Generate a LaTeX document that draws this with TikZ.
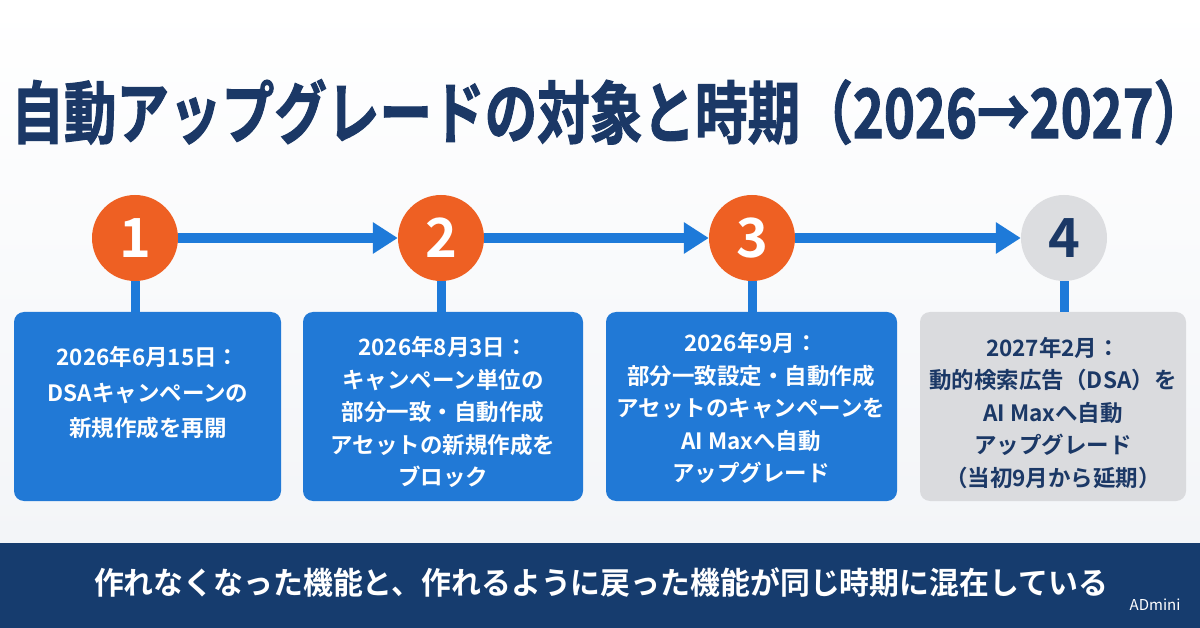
\documentclass[tikz,border=0pt]{standalone}
\usepackage{fontspec}
\newfontfamily\jp{Noto Sans CJK JP}[BoldFont=* Bold]
\newfontfamily\jpheavy{Noto Sans CJK JP Bold}[FakeBold=1.8]
\usetikzlibrary{arrows.meta,calc}
\definecolor{navy}{HTML}{1B3866}
\definecolor{band}{HTML}{163C6E}
\definecolor{bluebox}{HTML}{2179D6}
\definecolor{orng}{HTML}{EE6023}
\definecolor{grayc}{HTML}{DCDDE0}
\definecolor{grayb}{HTML}{DADBDE}
\definecolor{lineblue}{HTML}{1E7AD9}
\definecolor{bgtop}{HTML}{FFFFFF}
\definecolor{bgbot}{HTML}{F3F5F8}
\begin{document}
\begin{tikzpicture}[x=1pt,y=-1pt,
  stepcircle/.style={circle,minimum size=86pt,inner sep=0pt,font=\jp\bfseries\fontsize{54}{54}\selectfont},
  flowarrow/.style={draw=lineblue,line width=10pt,-{Triangle[length=25pt,width=30pt]}},
  vconn/.style={draw=lineblue,line width=9pt},
  boxtext/.style={align=center,font=\jp\bfseries\fontsize{22.5}{32.5}\selectfont,inner sep=0pt}]
\useasboundingbox (0,0) rectangle (1200,628);
\shade[top color=bgtop,bottom color=bgbot] (0,0) rectangle (1200,543);
\fill[band] (0,543) rectangle (1200,628);
% title
\node[inner sep=0pt] (title) at (597,112) {\scalebox{1}[1.29]{\color{navy}\jpheavy\fontsize{52.6}{52.6}\selectfont 自動アップグレードの対象と時期（2026→2027）\kern-0.45em}};
% circles
\node[stepcircle,fill=orng,text=white] (c1) at (135,238) {1};
\node[stepcircle,fill=orng,text=white] (c2) at (441,238) {2};
\node[stepcircle,fill=orng,text=white] (c3) at (752,238) {3};
\node[stepcircle,fill=grayc,text=navy] (c4) at (1064,238) {4};
% boxes
\draw[fill=bluebox,draw=none,rounded corners=10pt] (14,312) rectangle (281,501);
\node[inner sep=0pt,minimum width=267pt,minimum height=189pt] (b1) at (147.5,406.5) {};
\draw[fill=bluebox,draw=none,rounded corners=10pt] (303,312) rectangle (583,501);
\node[inner sep=0pt,minimum width=280pt,minimum height=189pt] (b2) at (443,406.5) {};
\draw[fill=bluebox,draw=none,rounded corners=10pt] (606,312) rectangle (897,501);
\node[inner sep=0pt,minimum width=291pt,minimum height=189pt] (b3) at (751.5,406.5) {};
\draw[fill=grayb,draw=none,rounded corners=10pt] (920,312) rectangle (1186,501);
\node[inner sep=0pt,minimum width=266pt,minimum height=189pt] (b4) at (1053,406.5) {};
% arrows
\draw[flowarrow] (c1.east) -- (c2.west);
\draw[flowarrow] (c2.east) -- (c3.west);
\draw[flowarrow] (c3.east) -- (c4.west);
% vertical connectors
\draw[vconn] (c1.south) -- (c1.south |- b1.north);
\draw[vconn] (c2.south) -- (c2.south |- b2.north);
\draw[vconn] (c3.south) -- (c3.south |- b3.north);
\draw[vconn] (c4.south) -- (c4.south |- b4.north);
% box texts
\node[boxtext,text=white,font=\jp\bfseries\fontsize{22.5}{35.5}\selectfont] (t1) at (148,393) {2026年6月15日：\\DSAキャンペーンの\\新規作成を再開};
\node[boxtext,text=white] (t2) at (443,412) {2026年8月3日：\\キャンペーン単位の\\部分一致・自動作成\\アセットの新規作成を\\ブロック};
\node[boxtext,text=white] (t3) at (751,408) {2026年9月：\\部分一致設定・自動作成\\アセットのキャンペーンを\\AI Maxへ自動\\アップグレード};
\node[boxtext,text=navy] (t4) at (1053,413) {2027年2月：\\動的検索広告（DSA）を\\AI Maxへ自動\\アップグレード\\（当初9月から延期）};
% bottom
\node[text=white,font=\jp\bfseries\fontsize{31}{31}\selectfont] (bottom) at (601,583) {\scalebox{0.964}[1]{作れなくなった機能と、作れるように戻った機能が同じ時期に混在している}};
\node[text=white,font=\jp\fontsize{15}{15}\selectfont,anchor=east] (ad) at (1184,605) {ADmini};
\end{tikzpicture}
\end{document}
